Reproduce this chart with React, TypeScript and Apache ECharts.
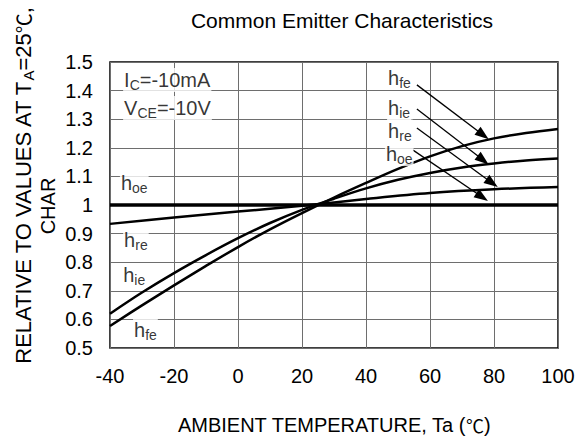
import React, { useEffect, useRef } from 'react';
import * as echarts from 'echarts';

const FONT = '"Liberation Sans", Arial, sans-serif';
const CJK = '"Noto Sans CJK SC", "Liberation Sans", sans-serif';

// x ticks: -40 .. 100 step 20 ; y ticks 0.5 .. 1.5 step 0.1
const xMin = -40;
const xMax = 100;
const xStep = 20;
const yMin = 0.5;
const yMax = 1.5;
const yStep = 0.1;

const hfeTemp = [-40, -30, -20, -10, 0, 10, 20, 30, 40, 50, 60, 70, 80, 90, 100];
const hfeVal = [0.577, 0.649, 0.719, 0.787, 0.853, 0.915, 0.972, 1.026, 1.077, 1.126, 1.17, 1.206, 1.233, 1.252, 1.266];

const hieTemp = [-40, -30, -20, -10, 0, 10, 20, 30, 40, 50, 60, 70, 80, 90, 100];
const hieVal = [0.62, 0.694, 0.762, 0.825, 0.884, 0.937, 0.983, 1.022, 1.058, 1.088, 1.112, 1.131, 1.145, 1.156, 1.163];

const hreTemp = [-40, -20, 0, 20, 40, 60, 80, 100];
const hreVal = [0.934, 0.956, 0.977, 0.997, 1.021, 1.042, 1.055, 1.063];

const hoeTemp = [-40, 100];
const hoeVal = [1.0, 1.0];

// annotation texts (rich formatted) and their anchor (data coords)
const annoText = [
  '{m|I}{s|C}{m|=-10mA}',
  '{m|V}{s|CE}{m|=-10V}',
  '{m|h}{s|oe}',
  '{m|h}{s|re}',
  '{m|h}{s|ie}',
  '{m|h}{s|fe}',
  '{m|h}{s|fe}',
  '{m|h}{s|ie}',
  '{m|h}{s|re}',
  '{m|h}{s|oe}',
];
const annoX = [-35.9, -35.9, -36.9, -35.9, -36.2, -32.8, 46.6, 46.6, 46.6, 45.9];
const annoY = [1.437, 1.339, 1.077, 0.878, 0.755, 0.563, 1.444, 1.338, 1.257, 1.178];

// arrows: from (label) -> to (curve)
const arrowFromX = [55.9, 55.9, 55.9, 54.7];
const arrowFromY = [1.42, 1.336, 1.269, 1.192];
const arrowToX = [76.6, 76.6, 79.4, 76.3];
const arrowToY = [1.245, 1.157, 1.077, 1.028];

const title = 'Common Emitter Characteristics';
const xName = '{m|AMBIENT TEMPERATURE, Ta (}{c|℃}{m|)}';
const yName1 = '{b|RELATIVE TO VALUES AT T}{t|A}{b|=25}{d|℃}{b|,}';
const yName2 = 'CHAR';

const pairs = (xs: number[], ys: number[]) => xs.map((x, i) => [x, ys[i]]);

export default function App() {
  const ref = useRef<HTMLDivElement>(null);
  useEffect(() => {
    if (!ref.current) return;
    const chart = echarts.init(ref.current, undefined, { renderer: 'svg' });
    const rich = {
      m: { fontSize: 20, fontFamily: FONT, color: '#000' },
      s: { fontSize: 14, fontFamily: FONT, color: '#000', padding: [10, 0, 0, 0] },
      c: { fontSize: 18, fontFamily: CJK, color: '#000' },
    };
    const richY = {
      b: { fontSize: 22, fontFamily: FONT, color: '#000' },
      t: { fontSize: 15, fontFamily: FONT, color: '#000', padding: [10, 0, 0, 0] },
      d: { fontSize: 20, fontFamily: CJK, color: '#000' },
    };
    const curve = (name: string, data: number[][], width: number) => ({
      name,
      type: 'line',
      data,
      smooth: 0.35,
      showSymbol: false,
      symbol: 'none',
      lineStyle: { color: '#000', width },
      silent: true,
      z: 3,
    });
    chart.setOption({
      animation: false,
      backgroundColor: '#fff',
      grid: {
        left: 110,
        right: 18,
        top: 62,
        bottom: 93,
        show: true,
        borderColor: '#000',
        borderWidth: 1.5,
        outerBoundsMode: 'none',
        containLabel: false,
      },
      xAxis: {
        type: 'value',
        min: xMin,
        max: xMax,
        interval: xStep,
        axisLine: { show: false },
        axisTick: { show: false },
        axisLabel: { fontSize: 20, fontFamily: FONT, color: '#000', margin: 18 },
        splitLine: { show: true, lineStyle: { color: '#6e6e6e', width: 1 } },
      },
      yAxis: {
        type: 'value',
        min: yMin,
        max: yMax,
        interval: yStep,
        axisLine: { show: false },
        axisTick: { show: false },
        axisLabel: {
          fontSize: 20,
          fontFamily: FONT,
          color: '#000',
          margin: 17,
          formatter: (v: number) => String(Math.round(v * 10) / 10),
        },
        splitLine: { show: true, lineStyle: { color: '#6e6e6e', width: 1 } },
      },
      graphic: [
        {
          type: 'text',
          x: 342,
          y: 20,
          style: { text: title, fontSize: 21, fontFamily: FONT, fill: '#000', textAlign: 'center', textVerticalAlign: 'middle' },
        },
        {
          type: 'text',
          x: 334,
          y: 425,
          style: { text: xName, rich, fontSize: 20, fontFamily: FONT, fill: '#000', textAlign: 'center', textVerticalAlign: 'middle' },
        },
        {
          type: 'text',
          x: 23,
          y: 186,
          rotation: Math.PI / 2,
          style: { text: yName1, rich: richY, fontSize: 22, fontFamily: FONT, fill: '#000', textAlign: 'center', textVerticalAlign: 'middle' },
        },
        {
          type: 'text',
          x: 48,
          y: 206,
          rotation: Math.PI / 2,
          style: { text: yName2, fontSize: 20, fontFamily: FONT, fill: '#000', textAlign: 'center', textVerticalAlign: 'middle' },
        },
      ],
      series: [
        curve('hoe', pairs(hoeTemp, hoeVal), 3.5),
        curve('hre', pairs(hreTemp, hreVal), 2.5),
        curve('hie', pairs(hieTemp, hieVal), 2.5),
        curve('hfe', pairs(hfeTemp, hfeVal), 2.5),
        {
          name: 'labels',
          type: 'scatter',
          symbolSize: 0,
          silent: true,
          z: 5,
          data: annoX.map((x, i) => [x, annoY[i]]),
          label: {
            show: true,
            position: 'right',
            distance: 0,
            formatter: (p: any) => annoText[p.dataIndex],
            rich,
            backgroundColor: '#fff',
            padding: [0, 1, 0, 1],
          },
          markLine: {
            silent: true,
            symbol: ['none', 'triangle'],
            symbolSize: [10, 14],
            label: { show: false },
            lineStyle: { color: '#000', width: 1.3, type: 'solid' },
            data: arrowFromX.map((x, i) => [
              { coord: [x, arrowFromY[i]] },
              { coord: [arrowToX[i], arrowToY[i]] },
            ]),
          },
        },
      ],
    });
    return () => chart.dispose();
  }, []);
  return (
    <div
      ref={ref}
      style={{ position: 'fixed', left: 0, top: 0, width: 576, height: 441 }}
    />
  );
}
